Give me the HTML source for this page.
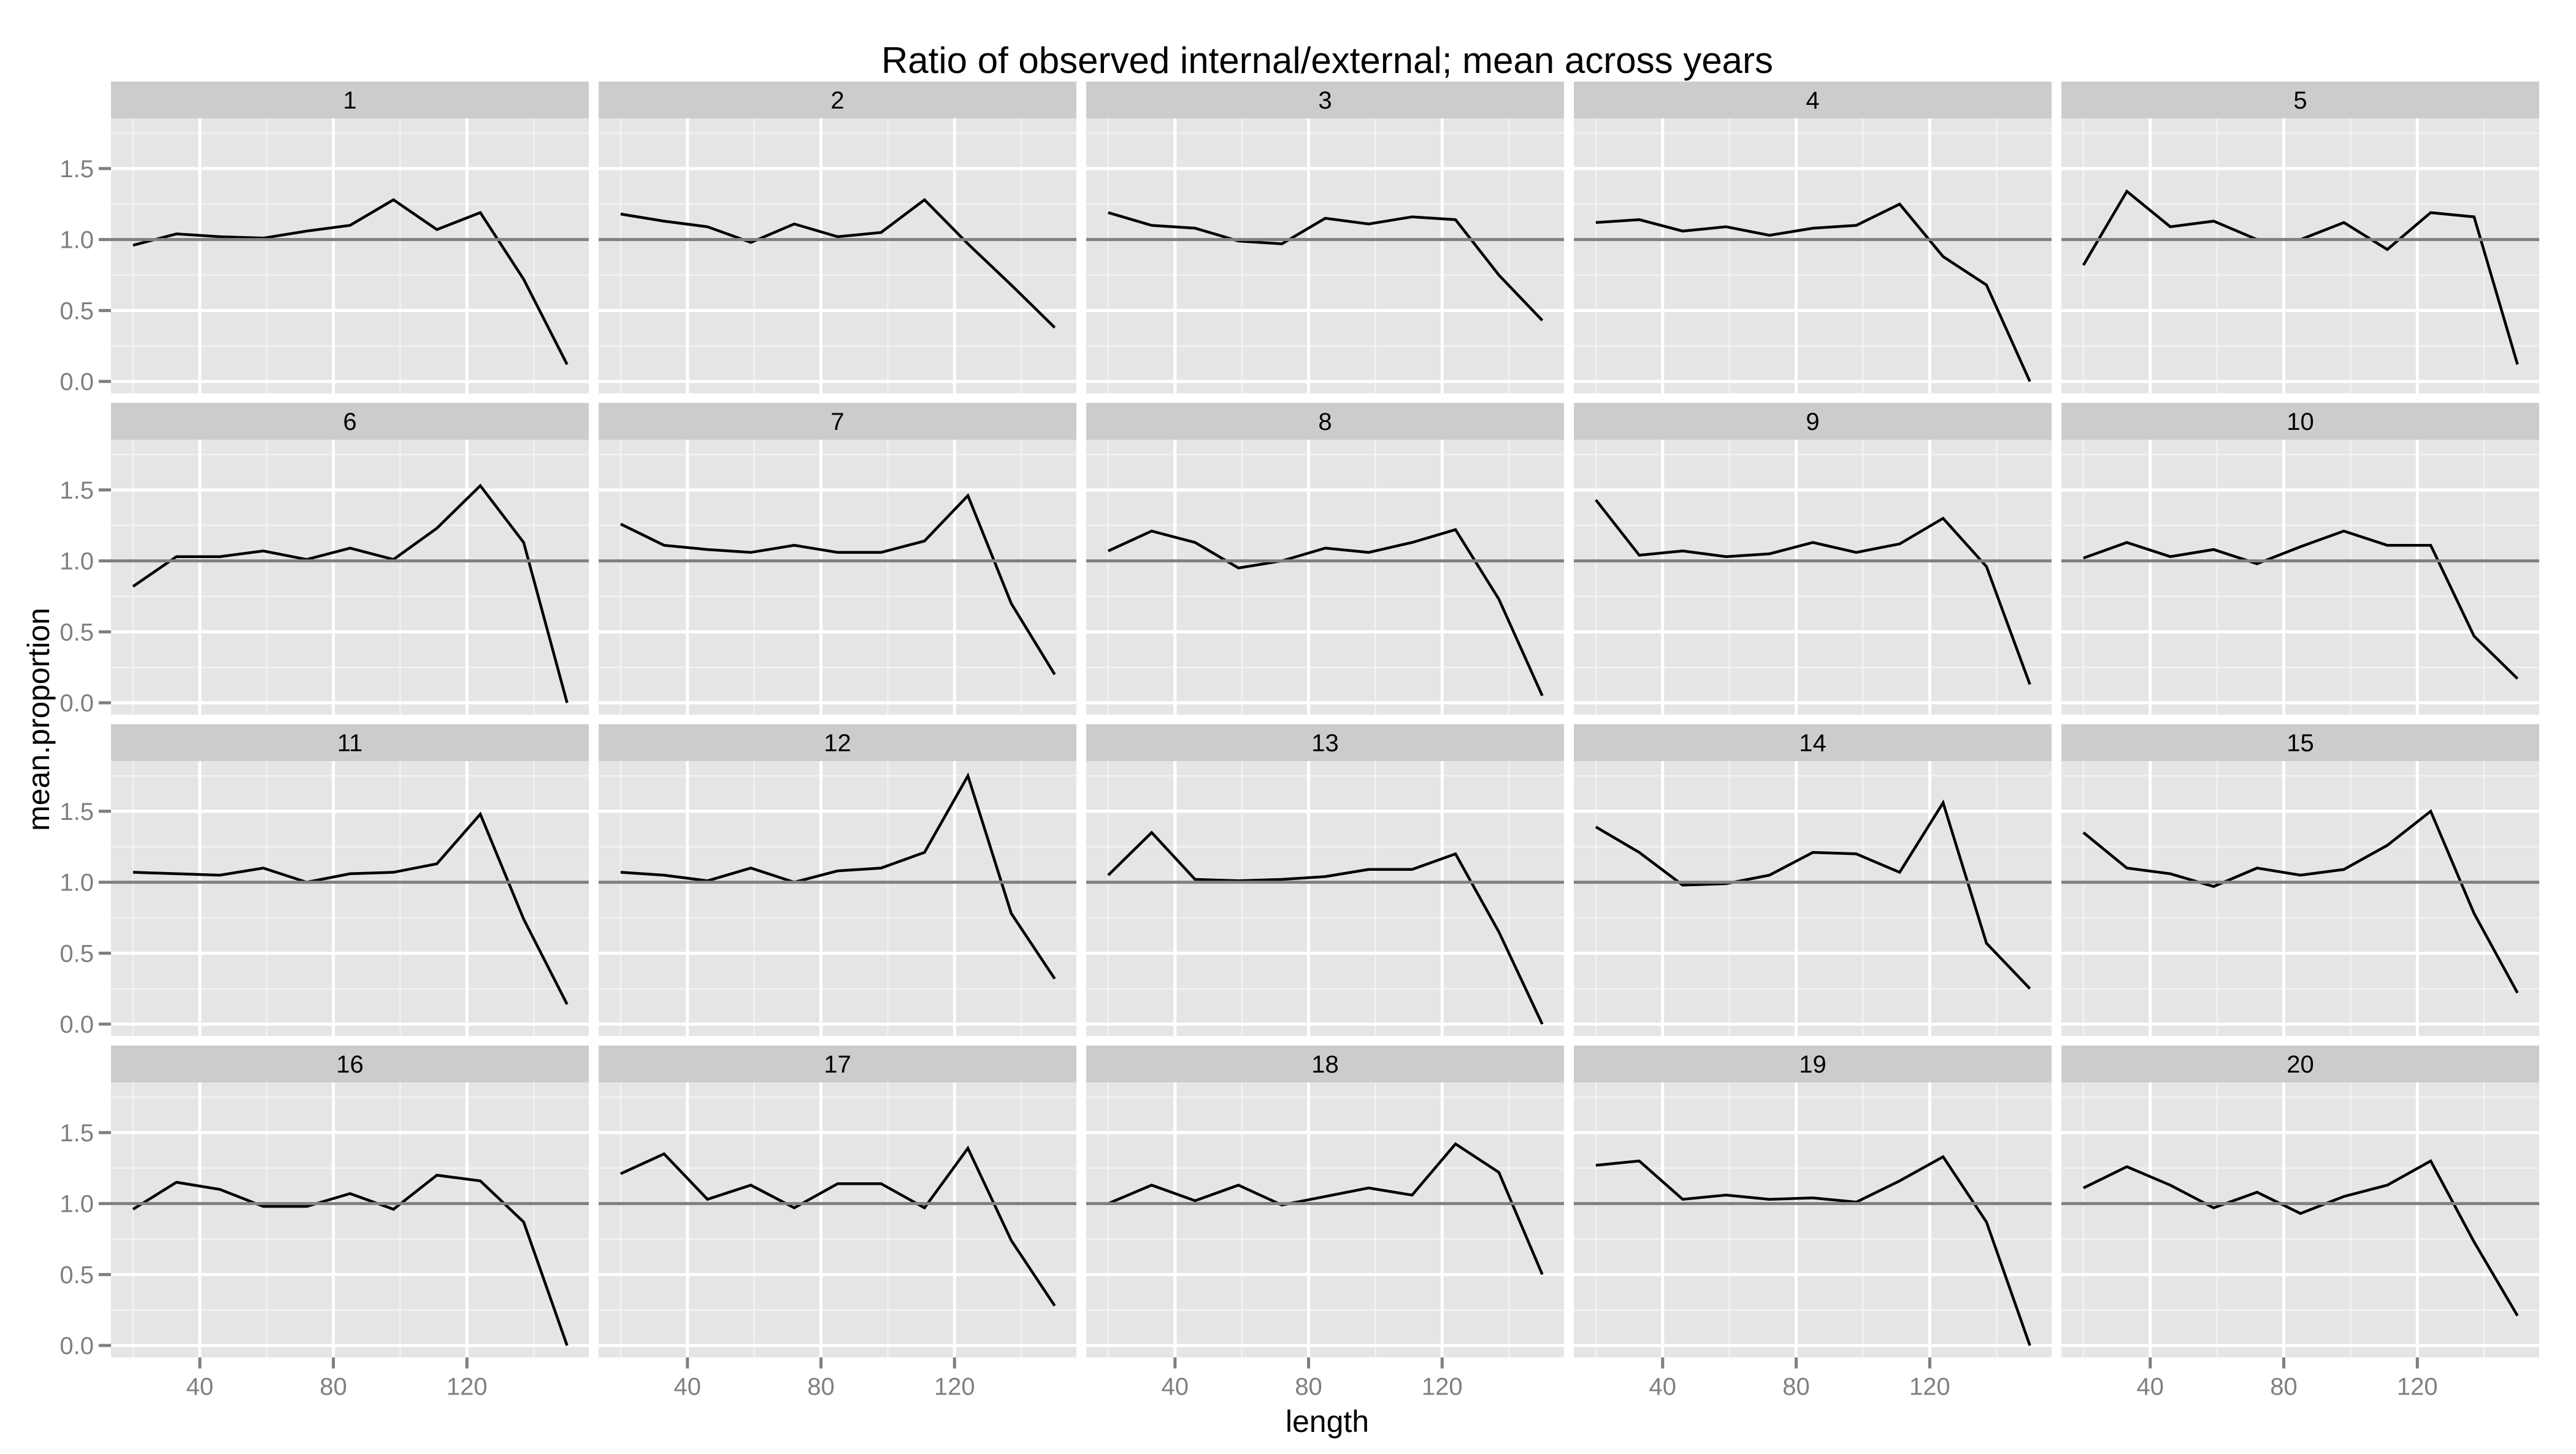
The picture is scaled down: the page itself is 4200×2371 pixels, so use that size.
<!DOCTYPE html>
<html><head><meta charset="utf-8"><style>
html,body{margin:0;padding:0;background:#fff;}
svg{display:block;font-family:"Liberation Sans",Arial,sans-serif;}
</style></head><body>
<svg id="chart" width="4200" height="2371" viewBox="0 0 4200 2371" xmlns="http://www.w3.org/2000/svg">
<rect width="4200" height="2371" fill="#fff"/>
<text x="2164" y="119" font-size="60" text-anchor="middle" fill="#000">Ratio of observed internal/external; mean across years</text>
<text x="2164" y="2335" font-size="50" text-anchor="middle" fill="#000">length</text>
<text transform="translate(80,1173) rotate(-90)" font-size="50" text-anchor="middle" fill="#000">mean.proportion</text>
<g id="panels"></g>
</svg>
<script>
const lengths = [20,33,46,59,72,85,98,111,124,137,150];
const panelLabels = ["1","2","3","4","5","6","7","8","9","10","11","12","13","14","15","16","17","18","19","20"];
const s1 = [0.96,1.04,1.02,1.01,1.06,1.10,1.28,1.07,1.19,0.72,0.12];
const s2 = [1.18,1.13,1.09,0.98,1.11,1.02,1.05,1.28,0.97,0.68,0.38];
const s3 = [1.19,1.10,1.08,0.99,0.97,1.15,1.11,1.16,1.14,0.75,0.43];
const s4 = [1.12,1.14,1.06,1.09,1.03,1.08,1.10,1.25,0.88,0.68,0.00];
const s5 = [0.82,1.34,1.09,1.13,1.00,1.00,1.12,0.93,1.19,1.16,0.12];
const s6 = [0.82,1.03,1.03,1.07,1.01,1.09,1.01,1.23,1.53,1.13,0.00];
const s7 = [1.26,1.11,1.08,1.06,1.11,1.06,1.06,1.14,1.46,0.70,0.20];
const s8 = [1.07,1.21,1.13,0.95,1.00,1.09,1.06,1.13,1.22,0.73,0.05];
const s9 = [1.43,1.04,1.07,1.03,1.05,1.13,1.06,1.12,1.30,0.96,0.13];
const s10 = [1.02,1.13,1.03,1.08,0.98,1.10,1.21,1.11,1.11,0.47,0.17];
const s11 = [1.07,1.06,1.05,1.10,1.00,1.06,1.07,1.13,1.48,0.74,0.14];
const s12 = [1.07,1.05,1.01,1.10,1.00,1.08,1.10,1.21,1.75,0.78,0.32];
const s13 = [1.05,1.35,1.02,1.01,1.02,1.04,1.09,1.09,1.20,0.65,0.00];
const s14 = [1.39,1.21,0.98,0.99,1.05,1.21,1.20,1.07,1.56,0.57,0.25];
const s15 = [1.35,1.10,1.06,0.97,1.10,1.05,1.09,1.26,1.50,0.78,0.22];
const s16 = [0.96,1.15,1.10,0.98,0.98,1.07,0.96,1.20,1.16,0.87,0.00];
const s17 = [1.21,1.35,1.03,1.13,0.97,1.14,1.14,0.97,1.39,0.74,0.28];
const s18 = [1.00,1.13,1.02,1.13,0.99,1.05,1.11,1.06,1.42,1.22,0.50];
const s19 = [1.27,1.30,1.03,1.06,1.03,1.04,1.01,1.16,1.33,0.87,0.00];
const s20 = [1.11,1.26,1.13,0.97,1.08,0.93,1.05,1.13,1.30,0.73,0.21];
const allSeries = [s1,s2,s3,s4,s5,s6,s7,s8,s9,s10,s11,s12,s13,s14,s15,s16,s17,s18,s19,s20];
const yTicks = [0,0.5,1.0,1.5];
const yTickLabels = ["0.0","0.5","1.0","1.5"];
const yMinor = [0.25,0.75,1.25,1.75];
const xTicks = [40,80,120];
const xTickLabels = ["40","80","120"];
const xMinor = [20,60,100,140];
const refLine = 1.0;

const NS = "http://www.w3.org/2000/svg";
const g = document.getElementById("panels");
const X0 = 181, PW = 779, PITCH = 795;
const Y0 = 133, STRIP = 60, PH = 448.5, RPITCH = 524;
const xmin = 13.4, xmax = 156.5, ymin = -0.084, ymax = 1.854;

function mk(tag, attrs, parent){const e=document.createElementNS(NS,tag);for(const k in attrs)e.setAttribute(k,attrs[k]);(parent||g).appendChild(e);return e;}

for (let i = 0; i < 20; i++) {
  const col = i % 5, row = Math.floor(i / 5);
  const left = X0 + col * PITCH, top = Y0 + row * RPITCH + STRIP;
  const sx = v => left + (v - xmin) / (xmax - xmin) * PW;
  const sy = v => top + PH - (v - ymin) / (ymax - ymin) * PH;
  const pg = mk("g", {});
  
  
  const strip = mk("rect", {x:left, y:top-STRIP, width:PW, height:STRIP, fill:"#cccccc"}, pg);
  
  
  const st = mk("text", {x:left+PW/2, y:top-STRIP/2+14, "font-size":40, "text-anchor":"middle", fill:"#000"}, pg);
  st.textContent = panelLabels[i];
  
  
  const bg = mk("rect", {x:left, y:top, width:PW, height:PH, fill:"#e5e5e5"}, pg);
  
  
  yMinor.forEach(v => mk("line", {x1:left, x2:left+PW, y1:sy(v), y2:sy(v), stroke:"#f2f2f2", "stroke-width":2.5}, pg));
  xMinor.forEach(v => mk("line", {x1:sx(v), x2:sx(v), y1:top, y2:top+PH, stroke:"#f2f2f2", "stroke-width":2.5}, pg));
  yTicks.forEach(v => mk("line", {x1:left, x2:left+PW, y1:sy(v), y2:sy(v), stroke:"#fff", "stroke-width":5}, pg));
  xTicks.forEach(v => mk("line", {x1:sx(v), x2:sx(v), y1:top, y2:top+PH, stroke:"#fff", "stroke-width":5}, pg));
  const data = allSeries[i];
  const pts = lengths.map((x, k) => sx(x).toFixed(1) + "," + sy(data[k]).toFixed(1)).join(" ");
  const ln = mk("polyline", {points:pts, fill:"none", stroke:"#000", "stroke-width":4.5, "stroke-linejoin":"miter"}, pg);
  
  
  const hl = mk("line", {x1:left, x2:left+PW, y1:sy(refLine), y2:sy(refLine), stroke:"#808080", "stroke-width":5}, pg);
  
  
  if (col === 0) {
    yTicks.forEach((v, k) => {
      mk("line", {x1:left-20, x2:left, y1:sy(v), y2:sy(v), stroke:"#7f7f7f", "stroke-width":5}, pg);
      const t = mk("text", {x:left-28, y:sy(v)+14, "font-size":40, "text-anchor":"end", fill:"#7f7f7f"}, pg);
      t.textContent = yTickLabels[k];
      
      
    });
  }
  if (row === 3) {
    xTicks.forEach((v, k) => {
      mk("line", {x1:sx(v), x2:sx(v), y1:top+PH, y2:top+PH+18, stroke:"#7f7f7f", "stroke-width":5}, pg);
      const t = mk("text", {x:sx(v), y:top+PH+61, "font-size":40, "text-anchor":"middle", fill:"#7f7f7f"}, pg);
      t.textContent = xTickLabels[k];
      
      
    });
  }
}
</script>
</body></html>
